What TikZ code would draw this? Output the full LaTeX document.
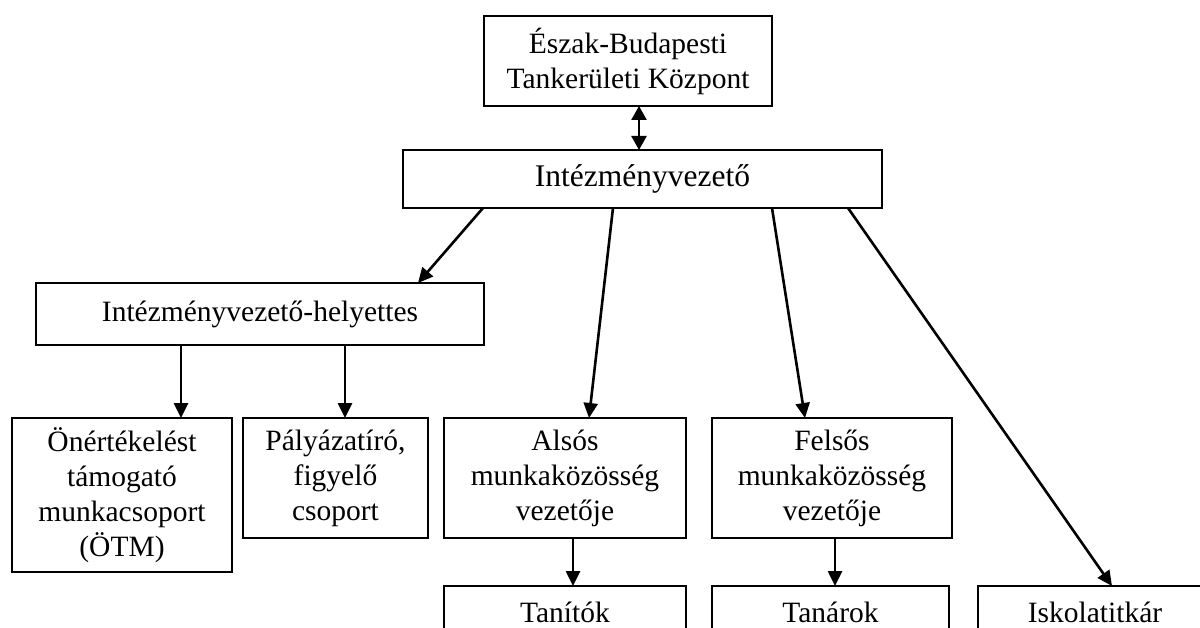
\documentclass[tikz,border=0pt]{standalone}
\usepackage{fontspec}
\setmainfont{Liberation Serif}
\usetikzlibrary{arrows.meta}
\begin{document}
\begin{tikzpicture}[x=1pt,y=-1pt,
  box/.style={draw, line width=2pt, rectangle, inner sep=0pt, outer sep=0pt, align=center,
    font=\fontsize{29.5}{35}\selectfont},
  lowbox/.style={box, minimum height=52, text depth=0pt},
  conn/.style={line width=2.6pt, -{Triangle[length=15pt,width=14pt]}},
  dbl/.style={line width=2.6pt, {Triangle[length=14pt,width=15pt]}-{Triangle[length=14pt,width=15pt]}}]
\clip (0,0) rectangle (1200,628);
\fill[white] (0,0) rectangle (1200,628);
\node[box, minimum width=288, minimum height=90] (tk) at (628,61) {Észak-Budapesti\\Tankerületi Központ};
\node[box, minimum width=479, minimum height=58, font=\fontsize{31.5}{36}\selectfont] (iv) at (642.5,179) {Intézményvezető};
\node[box, minimum width=448, minimum height=62] (ivh) at (260,314) {Intézményvezető-helyettes};
\node[box, minimum width=220, minimum height=154] (otm) at (122,495) {Önértékelést\\támogató\\munkacsoport\\(ÖTM)};
\node[box, minimum width=185, minimum height=120] (pal) at (335.5,478) {Pályázatíró,\\figyelő\\csoport};
\node[box, minimum width=242, minimum height=120] (als) at (565,478) {Alsós\\munkaközösség\\vezetője};
\node[box, minimum width=240, minimum height=120] (fel) at (832,478) {Felsős\\munkaközösség\\vezetője};
\node[lowbox, minimum width=242] (tan) at (565,612) {Tanítók};
\node[lowbox, minimum width=237] (tnr) at (830.5,612) {Tanárok};
\node[lowbox, minimum width=234] (isk) at (1095,612) {Iskolatitkár};
\draw[dbl] ([xshift=11pt]tk.south) -- ([xshift=11pt]tk.south |- iv.north);
\draw[conn] ([xshift=80pt]iv.south west) -- ([xshift=382pt]ivh.north west);
\draw[conn] ([xshift=210pt]iv.south west) -- ([xshift=145pt]als.north west);
\draw[conn] ([xshift=369pt]iv.south west) -- ([xshift=93pt]fel.north west);
\draw[conn] ([xshift=445pt]iv.south west) -- ([xshift=134pt]isk.north west);
\draw[conn] ([xshift=145pt]ivh.south west) -- ([xshift=145pt]ivh.south west |- otm.north);
\draw[conn] ([xshift=309pt]ivh.south west) -- ([xshift=309pt]ivh.south west |- pal.north);
\draw[conn] ([xshift=129pt]als.south west) -- ([xshift=129pt]als.south west |- tan.north);
\draw[conn] ([xshift=123pt]fel.south west) -- ([xshift=123pt]fel.south west |- tnr.north);
\end{tikzpicture}
\end{document}
